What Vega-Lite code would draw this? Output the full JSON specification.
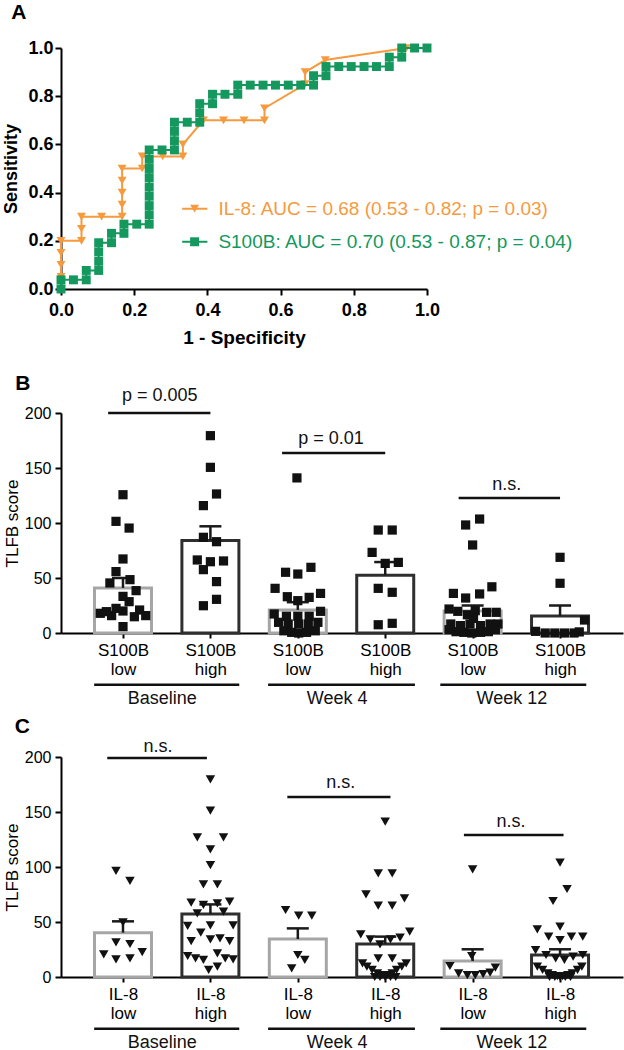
{
  "$schema": "https://vega.github.io/schema/vega-lite/v6.json",
  "padding": {"left": 2, "top": 2, "right": 2, "bottom": 0},
  "background": "white",
  "config": {
    "view": {"stroke": null},
    "font": "Liberation Sans",
    "axis": {"grid": false, "domainColor": "black", "domainWidth": 2, "tickColor": "black", "tickWidth": 2, "labelColor": "black", "titleColor": "black", "labelFlush": false, "labelOverlap": false, "labelBound": false}
  },
  "spacing": 124,
  "bounds": "flush",
  "datasets": {
    "roc": [
      {"m": "IL-8", "i": 0, "fpr": 0, "sens": 0},
      {"m": "IL-8", "i": 1, "fpr": 0, "sens": 0.05},
      {"m": "IL-8", "i": 2, "fpr": 0, "sens": 0.1},
      {"m": "IL-8", "i": 3, "fpr": 0, "sens": 0.15},
      {"m": "IL-8", "i": 4, "fpr": 0, "sens": 0.2},
      {"m": "IL-8", "i": 5, "fpr": 0.056, "sens": 0.2},
      {"m": "IL-8", "i": 6, "fpr": 0.056, "sens": 0.25},
      {"m": "IL-8", "i": 7, "fpr": 0.056, "sens": 0.3},
      {"m": "IL-8", "i": 8, "fpr": 0.111, "sens": 0.3},
      {"m": "IL-8", "i": 9, "fpr": 0.167, "sens": 0.3},
      {"m": "IL-8", "i": 10, "fpr": 0.167, "sens": 0.35},
      {"m": "IL-8", "i": 11, "fpr": 0.167, "sens": 0.4},
      {"m": "IL-8", "i": 12, "fpr": 0.167, "sens": 0.45},
      {"m": "IL-8", "i": 13, "fpr": 0.167, "sens": 0.5},
      {"m": "IL-8", "i": 14, "fpr": 0.222, "sens": 0.5},
      {"m": "IL-8", "i": 15, "fpr": 0.222, "sens": 0.55},
      {"m": "IL-8", "i": 16, "fpr": 0.278, "sens": 0.55},
      {"m": "IL-8", "i": 17, "fpr": 0.333, "sens": 0.55},
      {"m": "IL-8", "i": 18, "fpr": 0.333, "sens": 0.6},
      {"m": "IL-8", "i": 19, "fpr": 0.389, "sens": 0.7},
      {"m": "IL-8", "i": 20, "fpr": 0.444, "sens": 0.7},
      {"m": "IL-8", "i": 21, "fpr": 0.5, "sens": 0.7},
      {"m": "IL-8", "i": 22, "fpr": 0.556, "sens": 0.7},
      {"m": "IL-8", "i": 23, "fpr": 0.556, "sens": 0.75},
      {"m": "IL-8", "i": 24, "fpr": 0.667, "sens": 0.85},
      {"m": "IL-8", "i": 25, "fpr": 0.667, "sens": 0.9},
      {"m": "IL-8", "i": 26, "fpr": 0.722, "sens": 0.95},
      {"m": "IL-8", "i": 27, "fpr": 0.944, "sens": 1.0},
      {"m": "IL-8", "i": 28, "fpr": 1.0, "sens": 1.0},
      {"m": "S100B", "i": 0, "fpr": 0, "sens": 0},
      {"m": "S100B", "i": 1, "fpr": 0, "sens": 0.038},
      {"m": "S100B", "i": 2, "fpr": 0.034, "sens": 0.038},
      {"m": "S100B", "i": 3, "fpr": 0.069, "sens": 0.038},
      {"m": "S100B", "i": 4, "fpr": 0.069, "sens": 0.077},
      {"m": "S100B", "i": 5, "fpr": 0.103, "sens": 0.077},
      {"m": "S100B", "i": 6, "fpr": 0.103, "sens": 0.115},
      {"m": "S100B", "i": 7, "fpr": 0.103, "sens": 0.154},
      {"m": "S100B", "i": 8, "fpr": 0.103, "sens": 0.192},
      {"m": "S100B", "i": 9, "fpr": 0.138, "sens": 0.192},
      {"m": "S100B", "i": 10, "fpr": 0.138, "sens": 0.231},
      {"m": "S100B", "i": 11, "fpr": 0.172, "sens": 0.231},
      {"m": "S100B", "i": 12, "fpr": 0.172, "sens": 0.269},
      {"m": "S100B", "i": 13, "fpr": 0.207, "sens": 0.269},
      {"m": "S100B", "i": 14, "fpr": 0.241, "sens": 0.269},
      {"m": "S100B", "i": 15, "fpr": 0.241, "sens": 0.308},
      {"m": "S100B", "i": 16, "fpr": 0.241, "sens": 0.346},
      {"m": "S100B", "i": 17, "fpr": 0.241, "sens": 0.385},
      {"m": "S100B", "i": 18, "fpr": 0.241, "sens": 0.423},
      {"m": "S100B", "i": 19, "fpr": 0.241, "sens": 0.462},
      {"m": "S100B", "i": 20, "fpr": 0.241, "sens": 0.5},
      {"m": "S100B", "i": 21, "fpr": 0.241, "sens": 0.538},
      {"m": "S100B", "i": 22, "fpr": 0.241, "sens": 0.577},
      {"m": "S100B", "i": 23, "fpr": 0.276, "sens": 0.577},
      {"m": "S100B", "i": 24, "fpr": 0.31, "sens": 0.577},
      {"m": "S100B", "i": 25, "fpr": 0.31, "sens": 0.615},
      {"m": "S100B", "i": 26, "fpr": 0.31, "sens": 0.654},
      {"m": "S100B", "i": 27, "fpr": 0.31, "sens": 0.692},
      {"m": "S100B", "i": 28, "fpr": 0.345, "sens": 0.692},
      {"m": "S100B", "i": 29, "fpr": 0.379, "sens": 0.692},
      {"m": "S100B", "i": 30, "fpr": 0.379, "sens": 0.731},
      {"m": "S100B", "i": 31, "fpr": 0.379, "sens": 0.769},
      {"m": "S100B", "i": 32, "fpr": 0.414, "sens": 0.769},
      {"m": "S100B", "i": 33, "fpr": 0.414, "sens": 0.808},
      {"m": "S100B", "i": 34, "fpr": 0.448, "sens": 0.808},
      {"m": "S100B", "i": 35, "fpr": 0.483, "sens": 0.808},
      {"m": "S100B", "i": 36, "fpr": 0.483, "sens": 0.846},
      {"m": "S100B", "i": 37, "fpr": 0.517, "sens": 0.846},
      {"m": "S100B", "i": 38, "fpr": 0.552, "sens": 0.846},
      {"m": "S100B", "i": 39, "fpr": 0.586, "sens": 0.846},
      {"m": "S100B", "i": 40, "fpr": 0.621, "sens": 0.846},
      {"m": "S100B", "i": 41, "fpr": 0.655, "sens": 0.846},
      {"m": "S100B", "i": 42, "fpr": 0.69, "sens": 0.846},
      {"m": "S100B", "i": 43, "fpr": 0.69, "sens": 0.885},
      {"m": "S100B", "i": 44, "fpr": 0.724, "sens": 0.885},
      {"m": "S100B", "i": 45, "fpr": 0.724, "sens": 0.923},
      {"m": "S100B", "i": 46, "fpr": 0.759, "sens": 0.923},
      {"m": "S100B", "i": 47, "fpr": 0.793, "sens": 0.923},
      {"m": "S100B", "i": 48, "fpr": 0.828, "sens": 0.923},
      {"m": "S100B", "i": 49, "fpr": 0.862, "sens": 0.923},
      {"m": "S100B", "i": 50, "fpr": 0.897, "sens": 0.923},
      {"m": "S100B", "i": 51, "fpr": 0.897, "sens": 0.962},
      {"m": "S100B", "i": 52, "fpr": 0.931, "sens": 0.962},
      {"m": "S100B", "i": 53, "fpr": 0.931, "sens": 1.0},
      {"m": "S100B", "i": 54, "fpr": 0.966, "sens": 1.0},
      {"m": "S100B", "i": 55, "fpr": 1.0, "sens": 1.0}
    ],
    "legendA": [
      {"m": "IL-8", "label": "IL-8: AUC = 0.68 (0.53 - 0.82; p = 0.03)", "sens": 0.333},
      {"m": "S100B", "label": "S100B: AUC = 0.70 (0.53 - 0.87; p = 0.04)", "sens": 0.196}
    ],
    "barsB": [
      {"g": 1, "lvl": "low", "mean": 41, "upper": 50},
      {"g": 2, "lvl": "high", "mean": 84, "upper": 97},
      {"g": 3, "lvl": "low", "mean": 21, "upper": 28},
      {"g": 4, "lvl": "high", "mean": 52.5, "upper": 64.5},
      {"g": 5, "lvl": "low", "mean": 20, "upper": 25},
      {"g": 6, "lvl": "high", "mean": 15.5, "upper": 25}
    ],
    "barsC": [
      {"g": 1, "lvl": "low", "mean": 40.3, "upper": 50.6},
      {"g": 2, "lvl": "high", "mean": 57.3, "upper": 66},
      {"g": 3, "lvl": "low", "mean": 34.5, "upper": 44.2},
      {"g": 4, "lvl": "high", "mean": 30, "upper": 36.7},
      {"g": 5, "lvl": "low", "mean": 14.5, "upper": 25.2},
      {"g": 6, "lvl": "high", "mean": 20, "upper": 25.2}
    ],
    "sigB": [
      {"a": 0.83, "b": 2.0, "h": 200, "t": "p = 0.005", "tx": 1.42, "th": 215.5},
      {"a": 2.82, "b": 4.0, "h": 163.6, "t": "p = 0.01", "tx": 3.38, "th": 176},
      {"a": 4.84, "b": 6.0, "h": 122.7, "t": "n.s.", "tx": 5.39, "th": 134.5}
    ],
    "sigC": [
      {"a": 0.82, "b": 1.96, "h": 199, "t": "n.s.", "tx": 1.4, "th": 209},
      {"a": 2.88, "b": 4.06, "h": 163.6, "t": "n.s.", "tx": 3.49, "th": 176},
      {"a": 4.9, "b": 6.04, "h": 129, "t": "n.s.", "tx": 5.44, "th": 141}
    ],
    "groups": [
      {"label": "Baseline", "a": 0.67, "b": 2.33, "c": 1.45},
      {"label": "Week 4", "a": 2.66, "b": 4.34, "c": 3.45},
      {"label": "Week 12", "a": 4.63, "b": 6.3, "c": 5.45}
    ],
    "ptsB": [
      {"x": 1.0, "v": 125.7}, {"x": 0.92, "v": 101.5}, {"x": 1.07, "v": 95.4}, {"x": 1.0, "v": 67.3}, {"x": 0.92, "v": 55.8},
      {"x": 0.85, "v": 45.5}, {"x": 1.08, "v": 48.5}, {"x": 1.15, "v": 38.5}, {"x": 1.0, "v": 33.3}, {"x": 1.07, "v": 28.5},
      {"x": 0.74, "v": 17.9}, {"x": 0.81, "v": 19.4}, {"x": 0.87, "v": 15.8}, {"x": 0.92, "v": 22.4}, {"x": 1.0, "v": 20},
      {"x": 1.13, "v": 14.8}, {"x": 1.19, "v": 20.9}, {"x": 1.26, "v": 15.8}, {"x": 1.0, "v": 5.8},
      {"x": 2.0, "v": 179.4}, {"x": 2.0, "v": 150.6}, {"x": 2.07, "v": 126.4}, {"x": 1.92, "v": 115.8}, {"x": 1.92, "v": 87},
      {"x": 2.07, "v": 83}, {"x": 1.85, "v": 66.4}, {"x": 2.0, "v": 64.8}, {"x": 2.15, "v": 65.5}, {"x": 1.92, "v": 57.6},
      {"x": 2.07, "v": 46.7}, {"x": 1.92, "v": 24.8}, {"x": 2.07, "v": 30.6},
      {"x": 2.99, "v": 141}, {"x": 2.86, "v": 55.2}, {"x": 3.0, "v": 53.6}, {"x": 3.15, "v": 59.7}, {"x": 2.74, "v": 40.6},
      {"x": 2.88, "v": 33}, {"x": 3.0, "v": 29.4}, {"x": 3.13, "v": 32.4}, {"x": 3.26, "v": 36}, {"x": 2.73, "v": 17.3},
      {"x": 2.87, "v": 15.2}, {"x": 3.0, "v": 15.2}, {"x": 3.13, "v": 15.2}, {"x": 3.26, "v": 19.7}, {"x": 2.78, "v": 9.7},
      {"x": 2.89, "v": 8.2}, {"x": 3.01, "v": 8.2}, {"x": 3.12, "v": 8.2}, {"x": 3.23, "v": 9.7}, {"x": 2.84, "v": 2},
      {"x": 2.93, "v": 0.6}, {"x": 3.01, "v": 0}, {"x": 3.1, "v": 0.6}, {"x": 3.2, "v": 2},
      {"x": 3.92, "v": 93.6}, {"x": 4.08, "v": 93.6}, {"x": 3.85, "v": 73.3}, {"x": 4.0, "v": 63.3}, {"x": 4.15, "v": 64.2},
      {"x": 3.92, "v": 40.6}, {"x": 4.08, "v": 37}, {"x": 3.92, "v": 7.5}, {"x": 4.08, "v": 8.8},
      {"x": 4.92, "v": 98.2}, {"x": 5.08, "v": 103.6}, {"x": 5.0, "v": 80}, {"x": 4.78, "v": 36}, {"x": 4.92, "v": 31.8},
      {"x": 5.08, "v": 35.5}, {"x": 5.22, "v": 42}, {"x": 4.73, "v": 21.8}, {"x": 4.83, "v": 19.7}, {"x": 4.94, "v": 16.6},
      {"x": 5.03, "v": 20.3}, {"x": 5.16, "v": 18.8}, {"x": 5.27, "v": 18.8}, {"x": 5.01, "v": 13.3}, {"x": 4.75, "v": 8.2},
      {"x": 4.86, "v": 6.7}, {"x": 4.97, "v": 8.2}, {"x": 5.09, "v": 6.7}, {"x": 5.2, "v": 8.2}, {"x": 5.29, "v": 8.2},
      {"x": 4.73, "v": 3}, {"x": 4.81, "v": 1.2}, {"x": 4.9, "v": 0.6}, {"x": 4.99, "v": 0}, {"x": 5.09, "v": 0.6},
      {"x": 5.18, "v": 1.2}, {"x": 5.26, "v": 3},
      {"x": 6.0, "v": 68.8}, {"x": 6.0, "v": 45.2}, {"x": 6.28, "v": 11.8}, {"x": 5.72, "v": 1.5}, {"x": 5.83, "v": 0},
      {"x": 5.94, "v": 0}, {"x": 6.05, "v": 0}, {"x": 6.16, "v": 0}, {"x": 6.22, "v": 1}
    ],
    "ptsC": [
      {"x": 0.92, "v": 96.4}, {"x": 1.08, "v": 87.3}, {"x": 1.0, "v": 49.7}, {"x": 0.92, "v": 31.5}, {"x": 1.08, "v": 30},
      {"x": 0.78, "v": 20.6}, {"x": 1.22, "v": 22.7}, {"x": 0.92, "v": 16}, {"x": 1.08, "v": 17},
      {"x": 2.0, "v": 179.7}, {"x": 2.0, "v": 151.2}, {"x": 1.85, "v": 127}, {"x": 2.15, "v": 127}, {"x": 2.0, "v": 116},
      {"x": 2.0, "v": 101.8}, {"x": 1.92, "v": 84.2}, {"x": 2.08, "v": 84.2}, {"x": 1.78, "v": 67.6}, {"x": 1.92, "v": 65.5},
      {"x": 2.08, "v": 67}, {"x": 2.22, "v": 68.5}, {"x": 1.85, "v": 57.9}, {"x": 2.15, "v": 59.4}, {"x": 1.74, "v": 46.4},
      {"x": 2.0, "v": 47}, {"x": 2.26, "v": 47}, {"x": 1.89, "v": 40.3}, {"x": 2.11, "v": 35.2}, {"x": 1.78, "v": 32.7},
      {"x": 2.0, "v": 34.2}, {"x": 2.22, "v": 32.7}, {"x": 1.74, "v": 19.1}, {"x": 1.83, "v": 17}, {"x": 1.92, "v": 15.5},
      {"x": 2.08, "v": 21.5}, {"x": 2.17, "v": 17}, {"x": 2.26, "v": 16}, {"x": 2.08, "v": 9.4}, {"x": 1.98, "v": 6.4},
      {"x": 2.86, "v": 60.9}, {"x": 3.01, "v": 55.8}, {"x": 3.16, "v": 55.8}, {"x": 3.0, "v": 20}, {"x": 3.08, "v": 15.5},
      {"x": 2.93, "v": 7.9},
      {"x": 4.0, "v": 141.2}, {"x": 3.92, "v": 94.2}, {"x": 4.08, "v": 94.2}, {"x": 3.78, "v": 75.2}, {"x": 4.22, "v": 71.5},
      {"x": 3.92, "v": 64.8}, {"x": 4.08, "v": 64.8}, {"x": 3.72, "v": 38.8}, {"x": 3.83, "v": 34.2}, {"x": 4.06, "v": 34.2},
      {"x": 4.17, "v": 35.8}, {"x": 4.28, "v": 41.2}, {"x": 3.94, "v": 29.7}, {"x": 3.92, "v": 17}, {"x": 4.08, "v": 17},
      {"x": 3.74, "v": 12.4}, {"x": 3.79, "v": 9.4}, {"x": 3.85, "v": 6.4}, {"x": 3.91, "v": 3.3}, {"x": 3.96, "v": 1.8},
      {"x": 4.02, "v": 1.8}, {"x": 4.08, "v": 3.3}, {"x": 4.13, "v": 6.4}, {"x": 4.19, "v": 9.4}, {"x": 4.24, "v": 12.4},
      {"x": 3.88, "v": 0}, {"x": 3.94, "v": 0}, {"x": 4.0, "v": 0}, {"x": 4.06, "v": 0}, {"x": 4.12, "v": 0},
      {"x": 5.0, "v": 97.9}, {"x": 4.99, "v": 19.1}, {"x": 4.74, "v": 10}, {"x": 5.26, "v": 8.5}, {"x": 4.84, "v": 3.3},
      {"x": 4.94, "v": 1.8}, {"x": 5.03, "v": 1.8}, {"x": 5.12, "v": 2.7}, {"x": 5.2, "v": 3.9},
      {"x": 6.0, "v": 103.9}, {"x": 6.08, "v": 80}, {"x": 5.92, "v": 69.1}, {"x": 5.74, "v": 43.3}, {"x": 6.0, "v": 45.7},
      {"x": 5.87, "v": 36.7}, {"x": 6.0, "v": 33.6}, {"x": 6.13, "v": 36.7}, {"x": 6.26, "v": 36.7}, {"x": 5.72, "v": 24.5},
      {"x": 5.84, "v": 20}, {"x": 5.95, "v": 17}, {"x": 6.05, "v": 15.5}, {"x": 6.15, "v": 18.5}, {"x": 6.26, "v": 20},
      {"x": 5.74, "v": 9.4}, {"x": 5.8, "v": 6.4}, {"x": 5.86, "v": 3.3}, {"x": 5.91, "v": 1.8}, {"x": 5.97, "v": 0.8},
      {"x": 6.03, "v": 0.8}, {"x": 6.09, "v": 1.8}, {"x": 6.14, "v": 3.3}, {"x": 6.2, "v": 6.4}, {"x": 6.25, "v": 9.4},
      {"x": 5.88, "v": 0}, {"x": 5.94, "v": 0}, {"x": 6.0, "v": 0}, {"x": 6.06, "v": 0}, {"x": 6.12, "v": 0}
    ]
  },
  "vconcat": [
    {
      "width": 366,
      "height": 241,
      "layer": [
        {
          "data": {"name": "roc"},
          "transform": [{"filter": "datum.m == 'IL-8'"}],
          "mark": {"type": "line", "color": "#F59A3F", "strokeWidth": 2},
          "encoding": {
            "x": {"field": "fpr", "type": "quantitative", "scale": {"domain": [0, 1], "nice": false},
              "axis": {"values": [0, 0.2, 0.4, 0.6, 0.8, 1], "format": ".1f", "title": "1 - Specificity", "labelFontSize": 18, "labelFontWeight": "bold", "titleFontSize": 19, "titleFontWeight": "bold", "tickSize": 6, "labelPadding": 6, "titlePadding": 9}},
            "y": {"field": "sens", "type": "quantitative", "scale": {"domain": [0, 1], "nice": false},
              "axis": {"values": [0, 0.2, 0.4, 0.6, 0.8, 1], "format": ".1f", "title": "Sensitivity", "labelFontSize": 18, "labelFontWeight": "bold", "titleFontSize": 18, "titleFontWeight": "bold", "tickSize": 6, "labelPadding": 2, "titlePadding": 7}},
            "order": {"field": "i", "type": "quantitative"}
          }
        },
        {
          "data": {"name": "roc"},
          "transform": [{"filter": "datum.m == 'IL-8'"}],
          "mark": {"type": "point", "shape": "triangle-down", "filled": true, "size": 80, "color": "#F59A3F", "opacity": 1},
          "encoding": {"x": {"field": "fpr", "type": "quantitative"}, "y": {"field": "sens", "type": "quantitative"}}
        },
        {
          "data": {"name": "roc"},
          "transform": [{"filter": "datum.m == 'S100B'"}],
          "mark": {"type": "line", "color": "#14985E", "strokeWidth": 2},
          "encoding": {"x": {"field": "fpr", "type": "quantitative"}, "y": {"field": "sens", "type": "quantitative"}, "order": {"field": "i", "type": "quantitative"}}
        },
        {
          "data": {"name": "roc"},
          "transform": [{"filter": "datum.m == 'S100B'"}],
          "mark": {"type": "point", "shape": "square", "filled": true, "size": 80, "color": "#14985E", "opacity": 1},
          "encoding": {"x": {"field": "fpr", "type": "quantitative"}, "y": {"field": "sens", "type": "quantitative"}}
        },
        {
          "data": {"name": "legendA"},
          "mark": {"type": "rule", "strokeWidth": 2},
          "encoding": {"x": {"datum": 0.331}, "x2": {"datum": 0.4}, "y": {"field": "sens", "type": "quantitative"},
            "color": {"field": "m", "type": "nominal", "scale": {"domain": ["IL-8", "S100B"], "range": ["#F59A3F", "#14985E"]}, "legend": null}}
        },
        {
          "data": {"name": "legendA"},
          "mark": {"type": "point", "filled": true, "size": 80, "opacity": 1},
          "encoding": {"x": {"datum": 0.365}, "y": {"field": "sens", "type": "quantitative"},
            "color": {"field": "m", "type": "nominal", "legend": null},
            "shape": {"field": "m", "type": "nominal", "scale": {"domain": ["IL-8", "S100B"], "range": ["triangle-down", "square"]}, "legend": null}}
        },
        {
          "data": {"name": "legendA"},
          "mark": {"type": "text", "align": "left", "baseline": "middle", "fontSize": 19},
          "encoding": {"x": {"datum": 0.43}, "y": {"field": "sens", "type": "quantitative"}, "text": {"field": "label"},
            "color": {"field": "m", "type": "nominal", "legend": null}}
        },
        {
          "data": {"values": [{"t": "A"}]},
          "mark": {"type": "text", "align": "center", "baseline": "middle", "fontSize": 21, "fontWeight": "bold", "color": "black"},
          "encoding": {"x": {"datum": -0.115}, "y": {"datum": 1.145}, "text": {"field": "t"}}
        }
      ]
    },
    {
      "width": 562,
      "height": 220,
      "layer": [
        {
          "data": {"name": "barsB"},
          "mark": {"type": "bar", "orient": "vertical", "width": 57, "fill": "white", "strokeWidth": 3},
          "encoding": {
            "x": {"field": "g", "type": "quantitative", "scale": {"domain": [0.348, 6.663], "nice": false, "zero": false},
              "axis": {"values": [1, 2, 3, 4, 5, 6], "labelExpr": "['S100B', datum.value % 2 == 1 ? 'low' : 'high']", "title": null, "labelFontSize": 17, "labelLineHeight": 19, "tickSize": 5, "labelPadding": 4}},
            "y": {"field": "mean", "type": "quantitative", "scale": {"domain": [0, 200], "nice": false},
              "axis": {"values": [0, 50, 100, 150, 200], "title": "TLFB score", "labelFontSize": 16, "titleFontSize": 17, "titleFontWeight": "normal", "tickSize": 6, "labelPadding": 4, "titlePadding": 3}},
            "stroke": {"field": "lvl", "type": "nominal", "scale": {"domain": ["low", "high"], "range": ["#A6A6A6", "#2F2F2F"]}, "legend": null}
          }
        },
        {
          "data": {"name": "barsB"},
          "mark": {"type": "rule", "strokeWidth": 2.5, "color": "#1A1A1A"},
          "encoding": {"x": {"field": "g", "type": "quantitative"}, "y": {"field": "mean", "type": "quantitative"}, "y2": {"field": "upper"}}
        },
        {
          "data": {"name": "barsB"},
          "mark": {"type": "tick", "orient": "horizontal", "size": 22, "thickness": 2.5, "color": "#1A1A1A", "opacity": 1},
          "encoding": {"x": {"field": "g", "type": "quantitative"}, "y": {"field": "upper", "type": "quantitative"}}
        },
        {
          "data": {"name": "ptsB"},
          "mark": {"type": "point", "shape": "square", "filled": true, "size": 85, "color": "#111111", "opacity": 1},
          "encoding": {"x": {"field": "x", "type": "quantitative"}, "y": {"field": "v", "type": "quantitative"}}
        },
        {
          "data": {"name": "sigB"},
          "mark": {"type": "rule", "strokeWidth": 2.5, "color": "#111111"},
          "encoding": {"x": {"field": "a", "type": "quantitative"}, "x2": {"field": "b"}, "y": {"field": "h", "type": "quantitative"}}
        },
        {
          "data": {"name": "sigB"},
          "mark": {"type": "text", "fontSize": 18, "color": "#111111", "baseline": "middle", "align": "center"},
          "encoding": {"x": {"field": "tx", "type": "quantitative"}, "y": {"field": "th", "type": "quantitative"}, "text": {"field": "t"}}
        },
        {
          "data": {"name": "groups"},
          "mark": {"type": "rule", "strokeWidth": 2.5, "color": "#111111"},
          "encoding": {"x": {"field": "a", "type": "quantitative"}, "x2": {"field": "b"}, "y": {"datum": -47}}
        },
        {
          "data": {"name": "groups"},
          "mark": {"type": "text", "fontSize": 18, "color": "#111111", "baseline": "middle", "align": "center"},
          "encoding": {"x": {"field": "c", "type": "quantitative"}, "y": {"datum": -60}, "text": {"field": "label"}}
        },
        {
          "data": {"values": [{"t": "B"}]},
          "mark": {"type": "text", "align": "center", "baseline": "middle", "fontSize": 21, "fontWeight": "bold", "color": "black"},
          "encoding": {"x": {"datum": -0.146}, "y": {"datum": 226}, "text": {"field": "t"}}
        }
      ]
    },
    {
      "width": 562,
      "height": 220,
      "layer": [
        {
          "data": {"name": "barsC"},
          "mark": {"type": "bar", "orient": "vertical", "width": 57, "fill": "white", "strokeWidth": 3},
          "encoding": {
            "x": {"field": "g", "type": "quantitative", "scale": {"domain": [0.348, 6.663], "nice": false, "zero": false},
              "axis": {"values": [1, 2, 3, 4, 5, 6], "labelExpr": "['IL-8', datum.value % 2 == 1 ? 'low' : 'high']", "title": null, "labelFontSize": 17, "labelLineHeight": 19, "tickSize": 5, "labelPadding": 4}},
            "y": {"field": "mean", "type": "quantitative", "scale": {"domain": [0, 200], "nice": false},
              "axis": {"values": [0, 50, 100, 150, 200], "title": "TLFB score", "labelFontSize": 16, "titleFontSize": 17, "titleFontWeight": "normal", "tickSize": 6, "labelPadding": 4, "titlePadding": 3}},
            "stroke": {"field": "lvl", "type": "nominal", "scale": {"domain": ["low", "high"], "range": ["#A6A6A6", "#2F2F2F"]}, "legend": null}
          }
        },
        {
          "data": {"name": "barsC"},
          "mark": {"type": "rule", "strokeWidth": 2.5, "color": "#1A1A1A"},
          "encoding": {"x": {"field": "g", "type": "quantitative"}, "y": {"field": "mean", "type": "quantitative"}, "y2": {"field": "upper"}}
        },
        {
          "data": {"name": "barsC"},
          "mark": {"type": "tick", "orient": "horizontal", "size": 22, "thickness": 2.5, "color": "#1A1A1A", "opacity": 1},
          "encoding": {"x": {"field": "g", "type": "quantitative"}, "y": {"field": "upper", "type": "quantitative"}}
        },
        {
          "data": {"name": "ptsC"},
          "mark": {"type": "point", "shape": "triangle-down", "filled": true, "size": 90, "color": "#111111", "opacity": 1},
          "encoding": {"x": {"field": "x", "type": "quantitative"}, "y": {"field": "v", "type": "quantitative"}}
        },
        {
          "data": {"name": "sigC"},
          "mark": {"type": "rule", "strokeWidth": 2.5, "color": "#111111"},
          "encoding": {"x": {"field": "a", "type": "quantitative"}, "x2": {"field": "b"}, "y": {"field": "h", "type": "quantitative"}}
        },
        {
          "data": {"name": "sigC"},
          "mark": {"type": "text", "fontSize": 18, "color": "#111111", "baseline": "middle", "align": "center"},
          "encoding": {"x": {"field": "tx", "type": "quantitative"}, "y": {"field": "th", "type": "quantitative"}, "text": {"field": "t"}}
        },
        {
          "data": {"name": "groups"},
          "mark": {"type": "rule", "strokeWidth": 2.5, "color": "#111111"},
          "encoding": {"x": {"field": "a", "type": "quantitative"}, "x2": {"field": "b"}, "y": {"datum": -47}}
        },
        {
          "data": {"name": "groups"},
          "mark": {"type": "text", "fontSize": 18, "color": "#111111", "baseline": "middle", "align": "center"},
          "encoding": {"x": {"field": "c", "type": "quantitative"}, "y": {"datum": -60}, "text": {"field": "label"}}
        },
        {
          "data": {"values": [{"t": "C"}]},
          "mark": {"type": "text", "align": "center", "baseline": "middle", "fontSize": 21, "fontWeight": "bold", "color": "black"},
          "encoding": {"x": {"datum": -0.152}, "y": {"datum": 227}, "text": {"field": "t"}}
        }
      ]
    }
  ]
}
